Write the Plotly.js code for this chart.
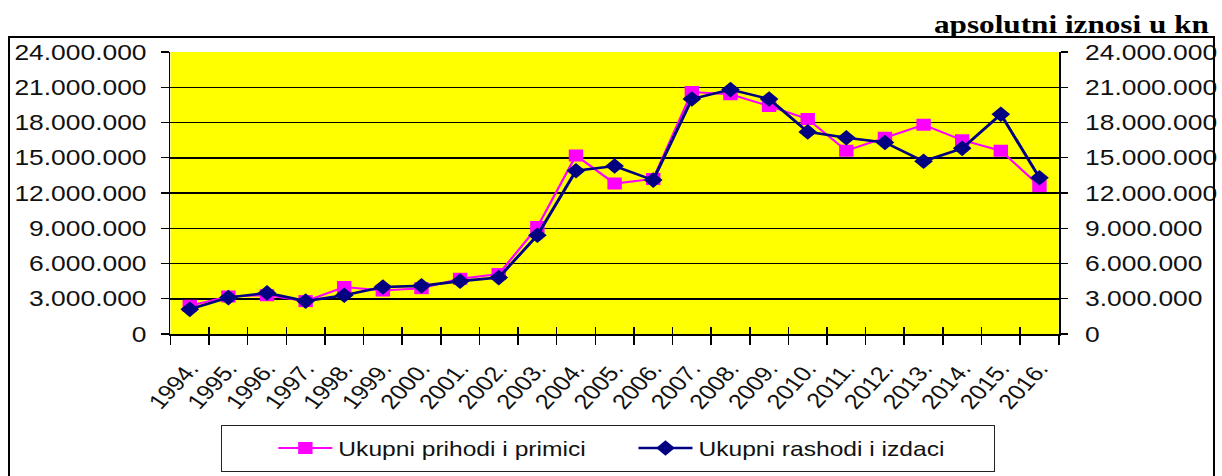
<!DOCTYPE html>
<html>
<head>
<meta charset="utf-8">
<script src="https://cdn.plot.ly/plotly-3.0.1.min.js"></script>
<style>
  html, body { margin: 0; padding: 0; background: #fff; overflow: hidden; }
  #wrap { position: relative; width: 1222px; height: 476px; overflow: hidden; }
  #chart { position: absolute; left: 0; top: 0; width: 1018px; height: 476px;
           transform: scaleX(1.2004); transform-origin: 0 0; }
  #outer { position: absolute; left: 8px; top: 36px; width: 1207px; height: 460px;
           border: 2px solid #000; box-sizing: border-box; pointer-events: none; }
  #legbox { position: absolute; left: 221px; top: 425px; width: 774px; height: 47px;
            border: 1.5px solid #222; box-sizing: border-box; pointer-events: none; }
</style>
</head>
<body>
<div id="wrap">
  <div id="chart"></div>
  <div id="outer"></div>
  <div id="legbox"></div>
</div>
<script>
const years = ['1994.','1995.','1996.','1997.','1998.','1999.','2000.','2001.','2002.','2003.',
  '2004.','2005.','2006.','2007.','2008.','2009.','2010.','2011.','2012.','2013.','2014.','2015.','2016.'];
const prihodiPrimici = [2400000, 3200000, 3300000, 2800000, 4000000, 3700000, 3900000, 4700000, 5100000,
  9100000, 15200000, 12800000, 13200000, 20600000, 20400000, 19400000, 18300000, 15600000, 16700000,
  17800000, 16500000, 15600000, 12600000];
const rashodiIzdaci = [2100000, 3100000, 3500000, 2800000, 3300000, 4000000, 4100000, 4500000, 4800000,
  8400000, 13900000, 14300000, 13100000, 20000000, 20800000, 20000000, 17200000, 16700000, 16300000,
  14700000, 15800000, 18700000, 13300000];
const seriesNames = ['Ukupni prihodi i primici', 'Ukupni rashodi i izdaci'];
const yTicks = [0, 3000000, 6000000, 9000000, 12000000, 15000000, 18000000, 21000000, 24000000];
const unitLabel = 'apsolutni iznosi u kn';

const tickFont = { family: 'Liberation Sans, Arial, sans-serif', size: 22, color: '#111' };

const traces = [
  { type: 'scatter', mode: 'lines+markers', name: seriesNames[0], x: years, y: prihodiPrimici,
    xaxis: 'x', yaxis: 'y',
    line: { color: '#FF00FF', width: 2 },
    marker: { symbol: 'square', size: 12, color: '#FF00FF' } },
  { type: 'scatter', mode: 'lines+markers', name: seriesNames[1], x: years, y: rashodiIzdaci,
    xaxis: 'x2', yaxis: 'y2',
    line: { color: '#000080', width: 2.6 },
    marker: { symbol: 'diamond', size: 12, color: '#000080' } }
];

const layout = {
  width: 1018, height: 476,
  margin: { l: 141.6, r: 135.6, t: 52.4, b: 142, pad: 0, autoexpand: false },
  paper_bgcolor: 'rgba(0,0,0,0)', plot_bgcolor: '#FFFF00',
  separators: ',.',
  showlegend: true,
  font: { family: 'Liberation Sans, Arial, sans-serif', color: '#111' },
  xaxis: { type: 'category', range: [-0.5, 22.5], tickson: 'boundaries', ticks: 'outside',
    ticklen: 9, tickwidth: 1.3, tickcolor: '#000', showgrid: false, showline: true,
    linecolor: '#000', linewidth: 2, tickangle: -52, tickfont: { ...tickFont, size: 21 },
    ticklabelstandoff: 12, automargin: false, fixedrange: true },
  xaxis2: { type: 'category', range: [-0.5, 22.5], overlaying: 'x', side: 'bottom', anchor: 'y2',
    tickson: 'boundaries', ticks: 'inside', ticklen: 7, tickwidth: 1.3, tickcolor: '#000',
    showgrid: false, showline: false, showticklabels: false, automargin: false, fixedrange: true },
  yaxis: { range: [0, 24000000], tickvals: yTicks, tickformat: ',.0f', ticks: 'outside',
    ticklen: 6, tickwidth: 1.3, tickcolor: '#000', showgrid: true, gridcolor: '#000', gridwidth: 1.5,
    zeroline: false, showline: true, linecolor: '#000', linewidth: 1.5, tickfont: tickFont,
    ticklabelstandoff: 8, automargin: false, fixedrange: true },
  yaxis2: { range: [0, 24000000], tickvals: yTicks, tickformat: ',.0f', overlaying: 'y', side: 'right',
    anchor: 'x', ticks: 'outside', ticklen: 6, tickwidth: 1.3, tickcolor: '#000', showgrid: false,
    zeroline: false, showline: true, linecolor: '#000', linewidth: 1.5, tickfont: tickFont,
    ticklabelstandoff: 10, automargin: false, fixedrange: true },
  legend: { orientation: 'h', x: 0.1147, xanchor: 'left', y: -0.405, yanchor: 'middle',
    bgcolor: 'rgba(0,0,0,0)', borderwidth: 0, itemwidth: 45, entrywidth: 240,
    font: { family: 'Liberation Sans, Arial, sans-serif', size: 20.5, color: '#111' } },
  annotations: [{ text: '<b>' + unitLabel + '</b>', xref: 'paper', yref: 'paper', x: 1.1725, y: 1.098,
    xanchor: 'right', yanchor: 'middle', showarrow: false,
    font: { family: 'Liberation Serif, Times New Roman, serif', size: 26, color: '#000' } }]
};

Plotly.newPlot('chart', traces, layout, { displayModeBar: false, staticPlot: true });
</script>
</body>
</html>
